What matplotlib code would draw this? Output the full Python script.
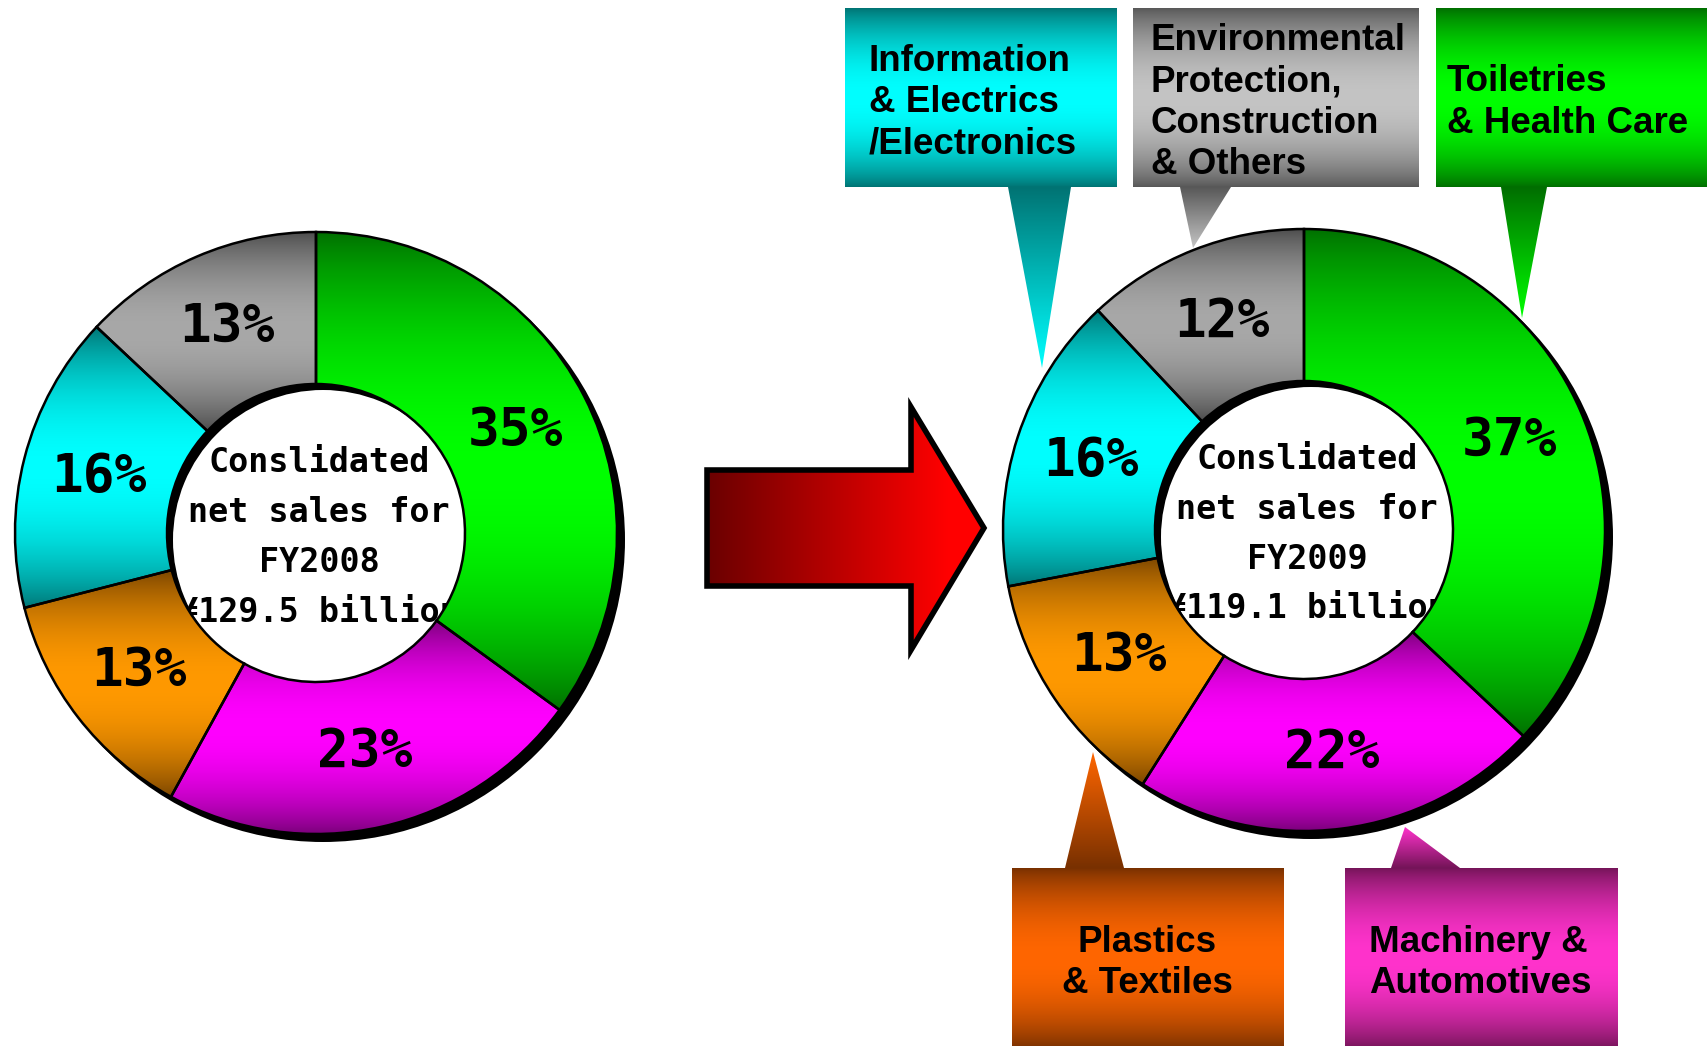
import matplotlib.pyplot as plt
import numpy as np
from matplotlib.patches import Wedge, Polygon
from matplotlib.colors import to_rgb

W, H = 1708, 1046

# segment shares (%), clockwise from 12 o'clock
segments = ["Toiletries\n& Health Care",
            "Machinery &\nAutomotives",
            "Plastics\n& Textiles",
            "Information\n& Electrics\n/Electronics",
            "Environmental\nProtection,\nConstruction\n& Others"]
shares_2008 = [35, 23, 13, 16, 13]
shares_2009 = [37, 22, 13, 16, 12]
years = ["FY2008", "FY2009"]
totals = ["¥129.5 billion", "¥119.1 billion"]

# (dark, bright) ends of each segment's gradient
slice_colors = [("#006e00", "#00ff00"),
                ("#780078", "#ff00ff"),
                ("#784400", "#ff9900"),
                ("#007373", "#00ffff"),
                ("#4a4a4a", "#a8a8a8")]
box_colors = [("#006e00", "#00ff00"),
              ("#741458", "#ff33cc"),
              ("#783000", "#ff6600"),
              ("#007373", "#00ffff"),
              ("#585858", "#c4c4c4")]

PCT_FONT = dict(family="DejaVu Sans Mono", fontweight="bold", fontsize=38)
MID_FONT = dict(family="DejaVu Sans Mono", fontweight="bold", fontsize=24)
BOX_FONT = dict(family="Liberation Sans", fontweight="bold", fontsize=26.5)


def Y(y):
    # layout below is measured top-down in pixels
    return H - y


def fill_gradient(ax, patch, dark, bright, mode="mid", zorder=1.5):
    x0, y0, x1, y1 = patch.get_path().get_extents().extents
    d, b = np.array(to_rgb(dark)), np.array(to_rgb(bright))
    t = np.linspace(0, 1, 256)
    if mode == "mid":
        w = np.sin(np.pi * t) ** 0.8
    elif mode == "down":
        w = t
    elif mode == "up":
        w = 1 - t
    else:  # left to right
        w = np.clip(t * 1.15, 0, 1)
    c = d + (b - d) * w[:, None]
    img = c[:, None, :] if mode != "right" else c[None, :, :]
    im = ax.imshow(img, extent=(x0, x1, y0, y1), origin="upper",
                   aspect="auto", interpolation="bilinear", zorder=zorder)
    im.set_clip_path(patch)


fig = plt.figure(figsize=(W / 100, H / 100), dpi=100)
ax = fig.add_axes([0, 0, 1, 1])
ax.set_axis_off()

R = 301
ring = 0.505 * R
shadow = 7
donuts = [((316, 533), shares_2008, years[0], totals[0]),
          ((1304, 530), shares_2009, years[1], totals[1])]

for (cx, cy), shares, year, total in donuts:
    c = (cx, Y(cy))
    wedges, _, autotexts = ax.pie(
        shares, center=c, radius=R, startangle=90, counterclock=False,
        autopct=lambda p: f"{p:.0f}%", pctdistance=0.745, frame=True,
        wedgeprops=dict(width=ring, facecolor="none", edgecolor="black",
                        linewidth=1.8, zorder=2),
        textprops=dict(color="black", zorder=3, **PCT_FONT))
    for wdg, (dk, br) in zip(wedges, slice_colors):
        fill_gradient(ax, wdg, dk, br)
    ax.add_patch(Wedge((c[0] + shadow, c[1] - shadow), R + 1, 0, 360,
                       width=ring, facecolor="black", edgecolor="none",
                       zorder=1.2))
    lines = ["Conslidated", "net sales for", year, total]
    for i, line in enumerate(lines):
        ax.text(c[0] + 3, c[1] - 4 + (1.5 - i) * 50, line, ha="center",
                va="center", zorder=1.3, **MID_FONT)

# arrow between the two years
arrow_pts = [(707, 470), (911, 470), (911, 407), (984, 528),
             (911, 650), (911, 586), (707, 586)]
arrow = Polygon([(x, Y(y)) for x, y in arrow_pts], closed=True,
                facecolor="none", edgecolor="black", linewidth=4,
                joinstyle="miter", zorder=2)
ax.add_patch(arrow)
fill_gradient(ax, arrow, "#6a0000", "#ff0000", mode="right")

# callouts: box (left, top, right, bottom), pointer base x, tip, text align, text x
callouts = [
    (3, (845, 8, 1117, 187), (1008, 1071), (1042, 368), "left", 869),
    (4, (1133, 8, 1419, 187), (1180, 1231), (1193, 248), "left", 1151),
    (0, (1436, 8, 1710, 187), (1501, 1547), (1522, 318), "left", 1447),
    (2, (1012, 868, 1284, 1048), (1065, 1124), (1093, 752), "center", 1147),
    (1, (1345, 868, 1618, 1048), (1391, 1460), (1405, 827), "left", 1369),
]
for idx, (l, t, r, b), (bx0, bx1), (tx, ty), align, xt in callouts:
    dk, br = box_colors[idx]
    box = Polygon([(l, Y(t)), (r, Y(t)), (r, Y(b)), (l, Y(b))],
                  facecolor="none", edgecolor="none", zorder=4)
    ax.add_patch(box)
    fill_gradient(ax, box, dk, br, zorder=4)
    base_y = b if ty > b else t
    ptr = Polygon([(bx0, Y(base_y)), (bx1, Y(base_y)), (tx, Y(ty))],
                  facecolor="none", edgecolor="none", zorder=4)
    ax.add_patch(ptr)
    fill_gradient(ax, ptr, dk, br, mode="down" if ty > b else "up", zorder=4)
    lines = segments[idx].split("\n")
    yc = (t + b) / 2 + 5
    for i, line in enumerate(lines):
        ax.text(xt, Y(yc + (i - (len(lines) - 1) / 2) * 41.5), line,
                ha=align, va="center", zorder=5, **BOX_FONT)

ax.set_xlim(0, W)
ax.set_ylim(0, H)
ax.set_aspect("equal")
fig.savefig("out.png", dpi=100, facecolor="white")
